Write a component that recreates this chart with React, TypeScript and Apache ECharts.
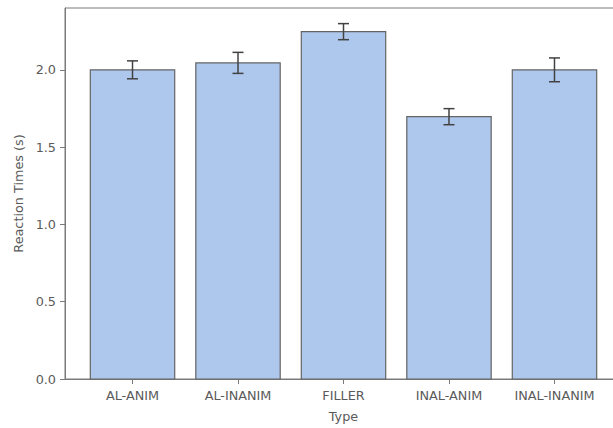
import React, { useEffect, useRef } from "react";
import * as echarts from "echarts";

const categories = ["AL-ANIM", "AL-INANIM", "FILLER", "INAL-ANIM", "INAL-INANIM"];
const means = [2.0, 2.045, 2.247, 1.697, 2.0];
const errors = [0.058, 0.068, 0.052, 0.052, 0.077];
const yTicks = [0, 0.5, 1.0, 1.5, 2.0];
const xTicks = [0, 1, 2, 3, 4];

const FONT = "DejaVu Sans";
const TEXT = "#5a5a5a";
const AXIS = "#7a7a7a";

export default function App() {
  const ref = useRef<HTMLDivElement>(null);
  useEffect(() => {
    if (!ref.current) return;
    const chart = echarts.init(ref.current, undefined, { renderer: "svg" });
    const barData = categories.map((c, i) => [i, means[i]]);
    const errData = categories.map((c, i) => [i, means[i] - errors[i], means[i] + errors[i]]);
    chart.setOption({
      animation: false,
      backgroundColor: "#ffffff",
      textStyle: { fontFamily: FONT },
      grid: {
        left: 65,
        top: 8,
        right: 18,
        bottom: 48,
        show: true,
        borderColor: AXIS,
        borderWidth: 1,
        backgroundColor: "transparent",
      },
      xAxis: {
        type: "value",
        min: -0.64,
        max: 4.64,
        name: "Type",
        nameLocation: "middle",
        nameGap: 31,
        nameTextStyle: { color: TEXT, fontSize: 12.8, fontFamily: FONT },
        axisLine: { show: true, onZero: false, lineStyle: { color: AXIS, width: 1 } },
        axisTick: { show: true, length: 5, customValues: xTicks, lineStyle: { color: AXIS } },
        axisLabel: {
          show: true,
          customValues: xTicks,
          margin: 10,
          color: TEXT,
          fontSize: 12.8,
          fontFamily: FONT,
          formatter: (v: number) => categories[Math.round(v)] ?? "",
        },
        splitLine: { show: false },
      },
      yAxis: {
        type: "value",
        min: 0,
        max: 2.4,
        name: "Reaction Times (s)",
        nameLocation: "middle",
        nameGap: 40,
        nameTextStyle: { color: TEXT, fontSize: 12.8, fontFamily: FONT },
        axisLine: { show: true, onZero: false, lineStyle: { color: AXIS, width: 1 } },
        axisTick: { show: true, length: 5, customValues: yTicks, lineStyle: { color: AXIS } },
        axisLabel: {
          show: true,
          customValues: yTicks,
          margin: 9,
          color: TEXT,
          fontSize: 12.8,
          fontFamily: FONT,
          formatter: (v: number) => v.toFixed(1),
        },
        splitLine: { show: false },
      },
      series: [
        {
          type: "custom",
          data: barData,
          renderItem: (params: any, api: any) => {
            const x = api.value(0);
            const y = api.value(1);
            const top = api.coord([x, y]);
            const base = api.coord([x, 0]);
            const w = api.size([0.8, 0])[0];
            return {
              type: "rect",
              shape: { x: top[0] - w / 2, y: top[1], width: w, height: base[1] - top[1] },
              style: { fill: "#aec7ed", stroke: "#646464", lineWidth: 1.2 },
            };
          },
          z: 2,
        },
        {
          type: "custom",
          data: errData,
          renderItem: (params: any, api: any) => {
            const x = api.value(0);
            const lo = api.coord([x, api.value(1)]);
            const hi = api.coord([x, api.value(2)]);
            const cap = 5.5;
            const st = { stroke: "#424242", lineWidth: 1.5 };
            return {
              type: "group",
              children: [
                { type: "line", shape: { x1: lo[0], y1: lo[1], x2: hi[0], y2: hi[1] }, style: st },
                { type: "line", shape: { x1: lo[0] - cap, y1: lo[1], x2: lo[0] + cap, y2: lo[1] }, style: st },
                { type: "line", shape: { x1: hi[0] - cap, y1: hi[1], x2: hi[0] + cap, y2: hi[1] }, style: st },
              ],
            };
          },
          z: 3,
        },
      ],
    });
    return () => chart.dispose();
  }, []);
  return (
    <div style={{ position: "fixed", left: 0, top: 0, width: 613, height: 428, overflow: "hidden", background: "#fff" }}>
      <div ref={ref} style={{ width: 640, height: 428 }} />
    </div>
  );
}
